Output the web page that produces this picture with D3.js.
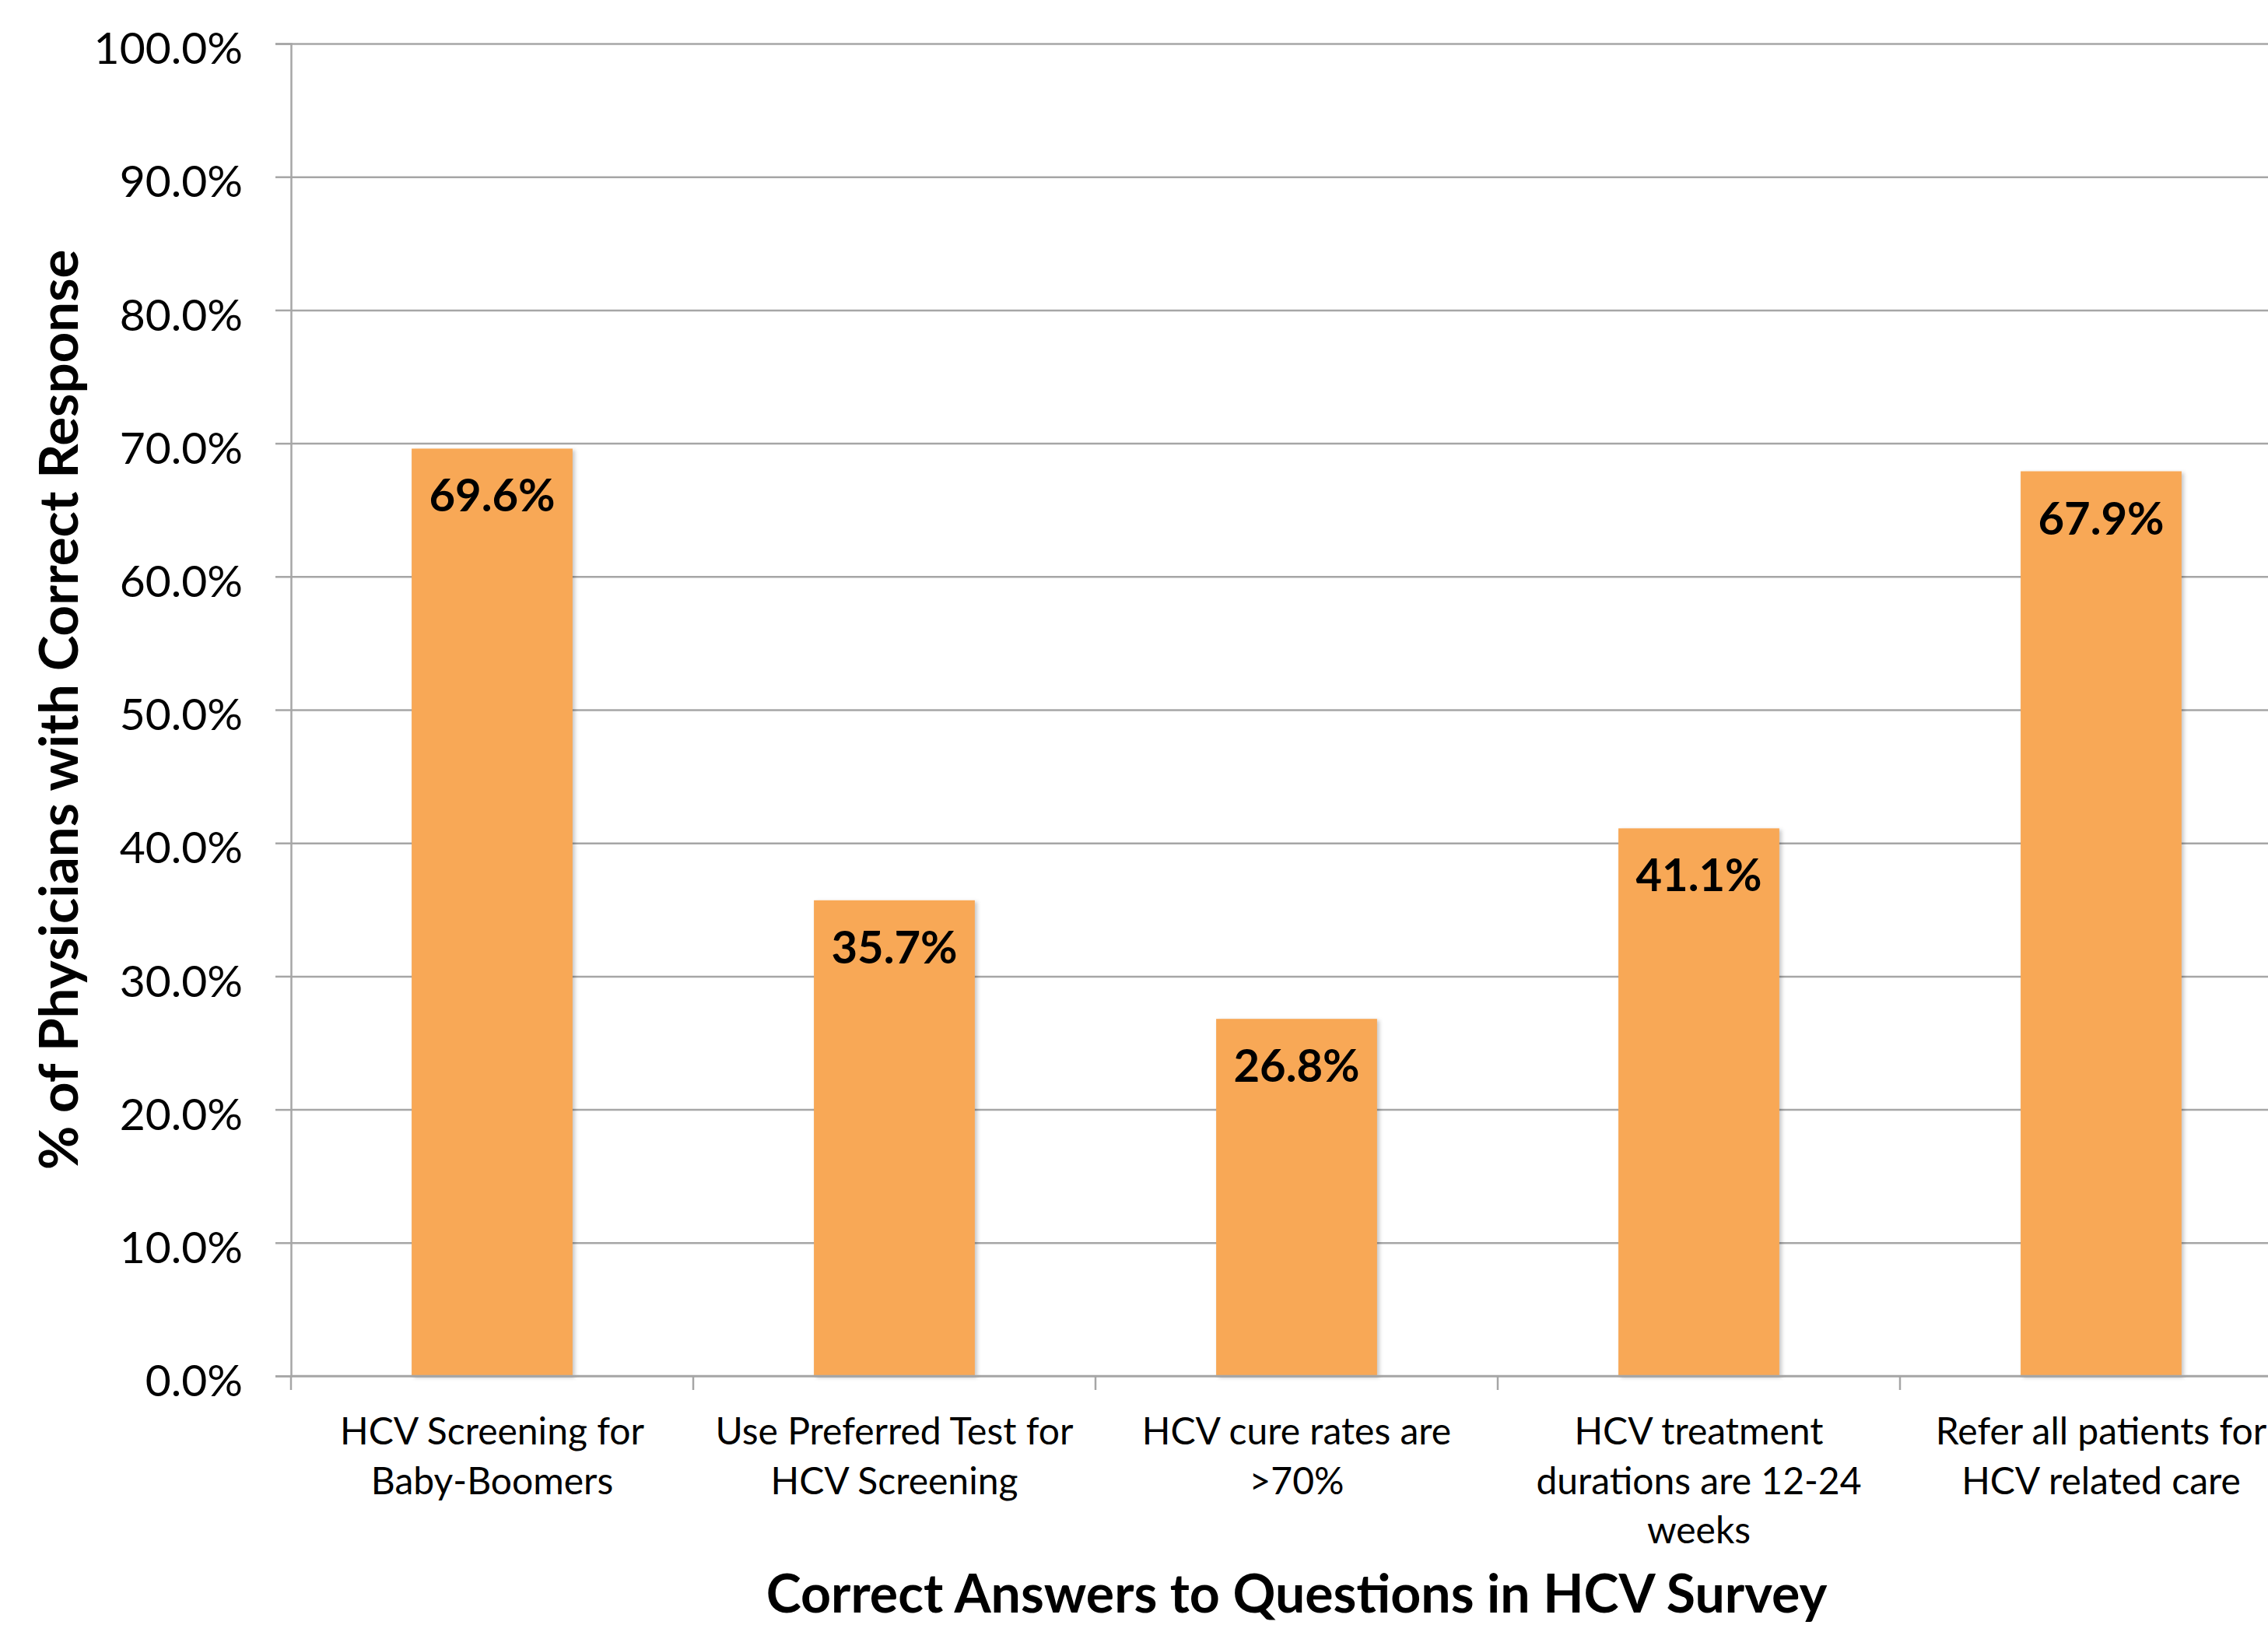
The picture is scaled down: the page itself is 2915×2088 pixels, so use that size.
<!DOCTYPE html>
<html>
<head>
<meta charset="utf-8">
<script src="https://cdn.jsdelivr.net/npm/d3@7"></script>
<style>
  body { margin: 0; background: #fff; }
  svg { display: block; font-family: Lato, "Open Sans", sans-serif; }
</style>
</head>
<body>
<svg id="svg"></svg>
<script>
// data
var categories = [
  'HCV Screening for Baby-Boomers',
  'Use Preferred Test for HCV Screening',
  'HCV cure rates are >70%',
  'HCV treatment durations are 12-24 weeks',
  'Refer all patients for HCV related care'
];
var categoryLines = [
  ['HCV Screening for', 'Baby-Boomers'],
  ['Use Preferred Test for', 'HCV Screening'],
  ['HCV cure rates are', '>70%'],
  ['HCV treatment', 'durations are 12-24', 'weeks'],
  ['Refer all patients for', 'HCV related care']
];
var values = [0.696, 0.357, 0.268, 0.411, 0.679];
var yTicks = [0, 0.1, 0.2, 0.3, 0.4, 0.5, 0.6, 0.7, 0.8, 0.9, 1.0];

var yTitle = '% of Physicians with Correct Response';
var xTitle = 'Correct Answers to Questions in HCV Survey';

/* basic sizes */
var W = 2915, H = 2088;
var plot = { left: 374, top: 56, right: 2959, bottom: 1768 };
var barColor = '#F8A856';
var lineColor = '#A6A6A6';

var x = d3.scaleBand()
  .domain(categories)
  .range([plot.left, plot.right])
  .paddingInner(0.6)
  .paddingOuter(0.3);

var y = d3.scaleLinear()
  .domain([0, 1])
  .range([plot.bottom, plot.top]);

var s = d3.select('#svg')
  .attr('width', W)
  .attr('height', H);

// bar shadow
var f = s.append('defs').append('filter')
  .attr('id', 'shadow')
  .attr('x', '-10%').attr('y', '-10%')
  .attr('width', '130%').attr('height', '130%');
f.append('feDropShadow')
  .attr('dx', 3).attr('dy', 2)
  .attr('stdDeviation', 2.5)
  .attr('flood-color', '#000')
  .attr('flood-opacity', 0.22);

// gridlines
var grid = s.append('g')
  .attr('transform', 'translate(' + plot.left + ',0)')
  .call(d3.axisLeft(y).tickValues(yTicks).tickSize(-(plot.right - plot.left)).tickFormat(''));
grid.select('.domain').remove();
grid.selectAll('line').attr('stroke', lineColor).attr('stroke-width', 2.5);

// bars
s.append('g').selectAll('rect')
  .data(values)
  .enter()
  .append('rect')
  .attr('x', function (d, i) { return x(categories[i]); })
  .attr('y', function (d) { return y(d); })
  .attr('width', x.bandwidth())
  .attr('height', function (d) { return y(0) - y(d); })
  .attr('fill', barColor)
  .attr('filter', 'url(#shadow)');

// value labels
s.append('g').selectAll('text')
  .data(values)
  .enter()
  .append('text')
  .attr('x', function (d, i) { return x(categories[i]) + x.bandwidth() / 2; })
  .attr('y', function (d) { return y(d) + 81; })
  .attr('text-anchor', 'middle')
  .attr('font-weight', 'bold')
  .attr('font-size', 58)
  .attr('fill', '#000')
  .text(function (d) { return d3.format('.1%')(d); });

// y axis
var yAxis = s.append('g')
  .attr('transform', 'translate(' + plot.left + ',0)')
  .call(d3.axisLeft(y).tickValues(yTicks).tickSize(20).tickPadding(42).tickFormat(d3.format('.1%')));
yAxis.select('.domain').attr('stroke', lineColor).attr('stroke-width', 2.5);
yAxis.selectAll('line').attr('stroke', lineColor).attr('stroke-width', 2.5);
yAxis.selectAll('text')
  .attr('font-size', 57)
  .attr('font-family', 'Lato, sans-serif')
  .attr('fill', '#000')
  .attr('dy', '0.45em');

// x axis baseline + boundary ticks
var xAxis = s.append('g');
xAxis.append('line')
  .attr('x1', plot.left).attr('x2', plot.right)
  .attr('y1', y(0)).attr('y2', y(0))
  .attr('stroke', lineColor).attr('stroke-width', 2.5);

var gap = (x.step() - x.bandwidth()) / 2;
var bounds = categories.map(function (c) { return x(c) - gap; });
bounds.push(x(categories[categories.length - 1]) + x.bandwidth() + gap);
xAxis.selectAll('line.tick')
  .data(bounds)
  .enter()
  .append('line')
  .attr('class', 'tick')
  .attr('x1', function (d) { return d; }).attr('x2', function (d) { return d; })
  .attr('y1', y(0)).attr('y2', y(0) + 18)
  .attr('stroke', lineColor).attr('stroke-width', 2.5);

// category labels
var lab = xAxis.selectAll('text.cat')
  .data(categoryLines)
  .enter()
  .append('text')
  .attr('class', 'cat')
  .attr('text-anchor', 'middle')
  .attr('font-size', 48)
  .attr('fill', '#000');
lab.selectAll('tspan')
  .data(function (d, i) { return d.map(function (t) { return { t: t, i: i }; }); })
  .enter()
  .append('tspan')
  .attr('x', function (d) { return x(categories[d.i]) + x.bandwidth() / 2; })
  .attr('y', function (d, j) { return y(0) + 88 + j * 63.5; })
  .text(function (d) { return d.t; });

// axis titles
s.append('text')
  .attr('transform', 'translate(100,' + (plot.top + plot.bottom) / 2 + ') rotate(-90)')
  .attr('text-anchor', 'middle')
  .attr('font-weight', 'bold')
  .attr('font-size', 69)
  .attr('fill', '#000')
  .text(yTitle);

s.append('text')
  .attr('x', (plot.left + plot.right) / 2)
  .attr('y', 2072)
  .attr('text-anchor', 'middle')
  .attr('font-weight', 'bold')
  .attr('font-size', 68)
  .attr('fill', '#000')
  .text(xTitle);
</script>
</body>
</html>
